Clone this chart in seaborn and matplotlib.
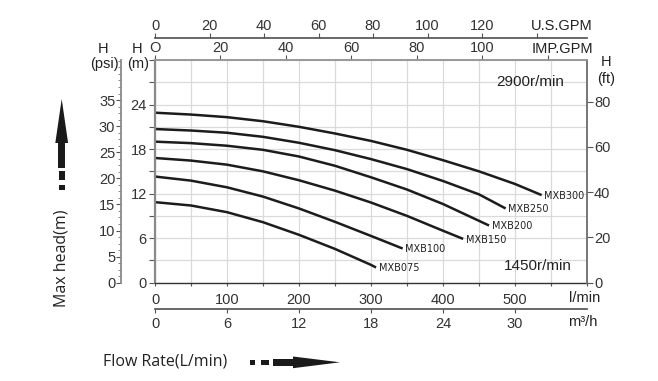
import matplotlib
matplotlib.use("Agg")
import matplotlib.pyplot as plt
import seaborn as sns
import pandas as pd
import numpy as np
from matplotlib.ticker import MultipleLocator, FixedLocator, FixedFormatter
from matplotlib.patches import Polygon, Rectangle

sns.set_theme(style="white")
plt.rcParams['font.family'] = ['Liberation Sans', 'DejaVu Sans']

# ---------------- data (flow in L/min, head in m) ----------------
models = ["MXB300", "MXB250", "MXB200", "MXB150", "MXB100", "MXB075"]
flow_mxb300 = [0, 50, 100, 150, 200, 250, 300, 350, 400, 450, 500, 537]
head_mxb300 = [22.9, 22.65, 22.3, 21.75, 21.0, 20.1, 19.1, 17.9, 16.5, 15.0, 13.3, 11.8]
flow_mxb250 = [0, 50, 100, 150, 200, 250, 300, 350, 400, 450, 487]
head_mxb250 = [20.7, 20.5, 20.2, 19.65, 18.85, 17.85, 16.65, 15.3, 13.7, 11.9, 10.0]
flow_mxb200 = [0, 50, 100, 150, 200, 250, 300, 350, 400, 464]
head_mxb200 = [19.0, 18.8, 18.45, 17.9, 17.0, 15.75, 14.2, 12.55, 10.6, 7.7]
flow_mxb150 = [0, 50, 100, 150, 200, 250, 300, 350, 400, 428]
head_mxb150 = [16.8, 16.45, 15.9, 15.0, 13.8, 12.4, 10.8, 9.0, 7.0, 5.9]
flow_mxb100 = [0, 50, 100, 150, 200, 250, 300, 344]
head_mxb100 = [14.3, 13.75, 12.85, 11.6, 10.0, 8.2, 6.3, 4.6]
flow_mxb075 = [0, 50, 100, 150, 200, 250, 300, 307]
head_mxb075 = [10.85, 10.4, 9.5, 8.15, 6.45, 4.55, 2.4, 2.05]

flows = [flow_mxb300, flow_mxb250, flow_mxb200, flow_mxb150, flow_mxb100, flow_mxb075]
heads = [head_mxb300, head_mxb250, head_mxb200, head_mxb150, head_mxb100, head_mxb075]

lmin_ticks = [0, 100, 200, 300, 400, 500]
m_ticks = [0, 6, 12, 18, 24]
psi_ticks = [0, 5, 10, 15, 20, 25, 30, 35]
ft_ticks = [0, 20, 40, 60, 80]
imp_ticks = [0, 20, 40, 60, 80, 100, 120]
imp_labels = ["O", "20", "40", "60", "80", "100", ""]
us_ticks = [0, 20, 40, 60, 80, 100, 120, 140]
us_labels = ["0", "20", "40", "60", "80", "100", "120", ""]
m3h_ticks = [0, 6, 12, 18, 24, 30]

rows = []
for name, fl, hd in zip(models, flows, heads):
    for f, h in zip(fl, hd):
        rows.append({"model": name, "flow": f, "head": h})
df = pd.DataFrame(rows)

# ---------------- figure ----------------
W, H = 658, 381
fig = plt.figure(figsize=(W / 100, H / 100), dpi=100)
L, R, T, B = 155, 587, 60, 282.7
ax = fig.add_axes([L / W, 1 - B / H, (R - L) / W, (B - T) / H])
ax_h = B - T
ax_w = R - L

XMAX, YMAX = 600, 30
ax.set_xlim(0, XMAX)
ax.set_ylim(0, YMAX)

tick_col = "#333333"
ax.xaxis.set_major_locator(FixedLocator(lmin_ticks))
ax.xaxis.set_minor_locator(MultipleLocator(50))
ax.yaxis.set_major_locator(FixedLocator(m_ticks))
ax.yaxis.set_minor_locator(MultipleLocator(3))
ax.grid(True, which="both", color="#dadada", lw=0.9)
ax.set_axisbelow(True)

sns.lineplot(data=df, x="flow", y="head", units="model", estimator=None,
             sort=False, color="#1c1c1c", lw=1.8, ax=ax, legend=False)
for ln in ax.get_lines():
    ln.set_solid_joinstyle("round")
    ln.set_solid_capstyle("butt")
ax.set_xlabel("")
ax.set_ylabel("")

for name, fl, hd in zip(models, flows, heads):
    ax.annotate(name, (fl[-1], hd[-1]), xytext=(2, -0.5), textcoords="offset points",
                fontsize=7, family="DejaVu Sans", color="#222222", va="center", ha="left")

ax.tick_params(axis="x", which="both", direction="out", length=2.5, width=0.8,
               color="#555555", labelsize=10.5, labelcolor=tick_col, pad=5)
ax.tick_params(axis="y", which="both", direction="out", length=4.5, width=0.8,
               color="#555555", labelsize=10.5, labelcolor=tick_col, pad=1.5)
ax.spines["left"].set_color("#8a8a8a")
ax.spines["left"].set_linewidth(1.6)
ax.spines["bottom"].set_color("#333333")
ax.spines["bottom"].set_linewidth(1.0)
ax.spines["top"].set_color("#999999")
ax.spines["right"].set_color("#777777")
for s in ax.spines.values():
    s.set_visible(True)

# psi axis (left, outward)
ax_psi = ax.twinx()
ax_psi.set_ylim(0, YMAX * 1.42233)
ax_psi.yaxis.set_ticks_position("left")
ax_psi.spines["left"].set_position(("axes", (121 - L) / ax_w))
ax_psi.spines["left"].set_visible(True)
ax_psi.spines["left"].set_color("#8a8a8a")
ax_psi.spines["left"].set_linewidth(1.3)
for s in ["right", "top", "bottom"]:
    ax_psi.spines[s].set_visible(False)
ax_psi.yaxis.set_major_locator(FixedLocator(psi_ticks))
ax_psi.yaxis.set_minor_locator(MultipleLocator(1.25))
ax_psi.tick_params(axis="y", which="major", direction="out", length=3.6, width=0.8,
                   color="#555555", labelsize=10.5, labelcolor=tick_col, pad=0.5)
ax_psi.tick_params(axis="y", which="minor", direction="out", length=2.2, width=0.6,
                   color="#777777")
ax_psi.grid(False)

# ft axis (right)
ax_ft = ax.twinx()
ax_ft.set_ylim(0, YMAX * 3.28084)
ax_ft.yaxis.set_major_locator(FixedLocator(ft_ticks))
ax_ft.tick_params(axis="y", direction="out", length=4, width=0.8, color="#555555",
                  labelsize=10.5, labelcolor=tick_col, pad=1)
for s in ["left", "top", "bottom"]:
    ax_ft.spines[s].set_visible(False)
ax_ft.spines["right"].set_color("#777777")
ax_ft.grid(False)

# IMP.GPM axis (top)
ax_imp = ax.twiny()
ax_imp.set_xlim(0, XMAX / 4.54609)
ax_imp.xaxis.set_major_locator(FixedLocator(imp_ticks))
ax_imp.xaxis.set_major_formatter(FixedFormatter(imp_labels))
ax_imp.tick_params(axis="x", direction="out", length=3.6, width=0.8, color="#555555",
                   labelsize=10.5, labelcolor=tick_col, pad=0)
for s in ["left", "right", "bottom"]:
    ax_imp.spines[s].set_visible(False)
ax_imp.spines["top"].set_color("#999999")
ax_imp.grid(False)

# U.S.GPM axis (top, outward)
ax_us = ax.twiny()
ax_us.set_xlim(0, XMAX / 3.78541)
ax_us.spines["top"].set_position(("axes", 1 + (T - 37.7) / ax_h))
ax_us.xaxis.set_major_locator(FixedLocator(us_ticks))
ax_us.xaxis.set_major_formatter(FixedFormatter(us_labels))
ax_us.tick_params(axis="x", direction="out", length=3.6, width=0.8, color="#555555",
                  labelsize=10.5, labelcolor=tick_col, pad=0)
for s in ["left", "right", "bottom"]:
    ax_us.spines[s].set_visible(False)
ax_us.spines["top"].set_color("#555555")
ax_us.grid(False)

# m3/h axis (bottom, outward)
ax_m3 = ax.twiny()
ax_m3.set_xlim(0, XMAX * 0.06)
ax_m3.xaxis.set_ticks_position("bottom")
ax_m3.xaxis.set_label_position("bottom")
ax_m3.spines["bottom"].set_visible(True)
ax_m3.spines["bottom"].set_position(("axes", -(309 - B) / ax_h))
ax_m3.spines["bottom"].set_color("#555555")
for s in ["left", "right", "top"]:
    ax_m3.spines[s].set_visible(False)
ax_m3.xaxis.set_major_locator(FixedLocator(m3h_ticks))
ax_m3.tick_params(axis="x", direction="out", length=2.9, width=0.8, color="#555555",
                  labelsize=10.5, labelcolor=tick_col, pad=2.5)
ax_m3.grid(False)

# ---------------- overlay: texts and arrows in pixel coords ----------------
ov = fig.add_axes([0, 0, 1, 1])
ov.set_xlim(0, W)
ov.set_ylim(H, 0)
ov.axis("off")
ov.patch.set_visible(False)

tc = "#222222"
def t(x, y, s, size=10.5, **kw):
    ov.text(x, y, s, fontsize=size, color=tc, ha=kw.pop("ha", "center"),
            va=kw.pop("va", "center"), **kw)

t(562, 26, "U.S.GPM")
t(562, 49, "IMP.GPM")
t(103, 49, "H")
t(104, 64, "(psi)")
t(137, 49, "H")
t(138, 64, "(m)")
t(606, 62, "H")
t(606, 79, "(ft)")
t(585, 297.5, "l/min")
t(583, 322, "m³/h")
t(530, 82, "2900r/min", size=11)
t(538, 266, "1450r/min", size=11)
ov.text(62, 258, "Max head(m)", fontsize=11.5, color=tc, rotation=90, ha="center",
        va="center", family=["Open Sans", "DejaVu Sans"])
ov.text(165, 362, "Flow Rate(L/min)", fontsize=11.5, color=tc, ha="center",
        va="center", family=["Open Sans", "DejaVu Sans"])

ac = "#1a1a1a"
# vertical arrow
ov.add_patch(Polygon([[61.7, 99], [55.3, 143], [68.1, 143]], closed=True, color=ac, lw=0))
ov.add_patch(Rectangle((58.4, 141), 6.6, 26.5, color=ac, lw=0))
ov.add_patch(Rectangle((58.7, 171), 6.0, 8.5, color=ac, lw=0))
ov.add_patch(Rectangle((58.7, 184.5), 6.0, 5.0, color=ac, lw=0))
# horizontal arrow
ov.add_patch(Rectangle((250, 359.5), 5.3, 5.8, color=ac, lw=0))
ov.add_patch(Rectangle((260.7, 359.5), 8.0, 5.8, color=ac, lw=0))
ov.add_patch(Rectangle((272.7, 359), 22, 6.8, color=ac, lw=0))
ov.add_patch(Polygon([[293, 356.5], [340, 362.3], [293, 368.2]], closed=True, color=ac, lw=0))

fig.savefig("out.png", dpi=100)
